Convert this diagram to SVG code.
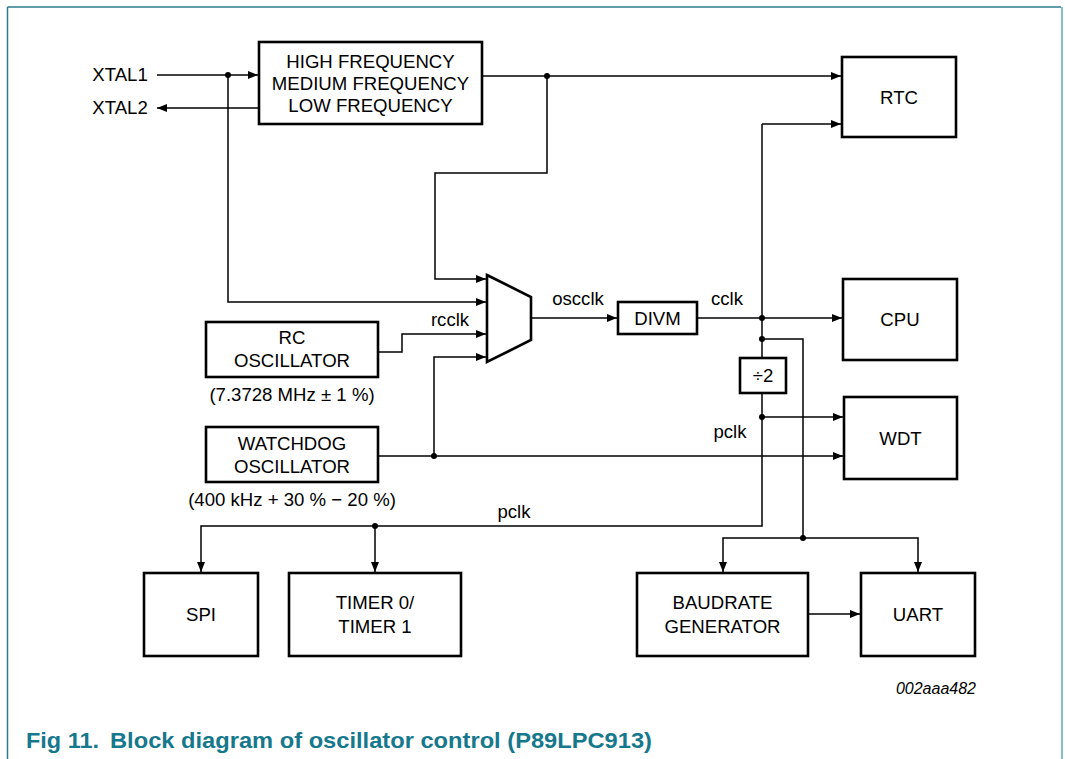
<svg xmlns="http://www.w3.org/2000/svg" width="1065" height="759" viewBox="0 0 1065 759">
<style>
.box{fill:#fff;stroke:#000;stroke-width:2.6}
.t{font-family:"Liberation Sans",Arial,sans-serif;font-size:18.6px;fill:#000;text-anchor:middle}
.w{stroke:#000;stroke-width:1.5;fill:none}
.a{marker-end:url(#arr)}
.cap{font-family:"Liberation Sans",Arial,sans-serif;font-weight:bold;font-size:22.5px;fill:#16788c}
</style>
<defs>
<marker id="arr" viewBox="0 0 10 8" refX="10" refY="4" markerWidth="10" markerHeight="8" markerUnits="userSpaceOnUse" orient="auto">
<path d="M0,0 L10,4 L0,8 z" fill="#000"/>
</marker>
</defs>
<rect width="1065" height="759" fill="#fff"/>
<g id="frame">
<line x1="7.5" y1="7" x2="1061" y2="7" stroke="#2b7d8e" stroke-width="1.5"/>
<line x1="7.5" y1="7" x2="7.5" y2="759" stroke="#2b7d8e" stroke-width="1.5"/>
<line x1="1062" y1="7" x2="1062" y2="759" stroke="#86c0cb" stroke-width="2"/>
</g>
<g id="connectors">
<path class="w a" d="M157,75 H258"/>
<path class="w a" d="M259,108 H157"/>
<path class="w a" d="M228,75 V302 H486"/>
<path class="w a" d="M482,76 H841"/>
<path class="w a" d="M547,76 V173 H435 V279 H486"/>
<path class="w a" d="M378,352 H402 V334 H486"/>
<path class="w a" d="M378,456 H843"/>
<path class="w a" d="M434,456 V357 H486"/>
<path class="w a" d="M531,318 H617"/>
<path class="w a" d="M697,318 H842"/>
<path class="w" d="M762,124 V358"/>
<path class="w a" d="M762,124 H841"/>
<path class="w" d="M762,339 H803 V538"/>
<path class="w a" d="M803,538 H723 V572"/>
<path class="w a" d="M803,538 H918 V572"/>
<path class="w a" d="M762,393 V526 H201 V572"/>
<path class="w a" d="M375,526 V572"/>
<path class="w a" d="M762,417 H843"/>
<path class="w a" d="M808,614 H860"/>
<g fill="#000">
<circle cx="228" cy="75" r="3"/>
<circle cx="547" cy="76" r="3"/>
<circle cx="434" cy="456" r="3"/>
<circle cx="762" cy="318" r="3"/>
<circle cx="762" cy="339" r="3"/>
<circle cx="762" cy="417" r="3"/>
<circle cx="375" cy="526" r="3"/>
<circle cx="803" cy="538" r="3"/>
</g>
<text class="t" x="578" y="305">oscclk</text>
<text class="t" x="450" y="326">rcclk</text>
<text class="t" x="727" y="305">cclk</text>
<text class="t" x="730" y="438">pclk</text>
<text class="t" x="514" y="518">pclk</text>
</g>
<g id="xtal1"><text class="t" x="120" y="81">XTAL1</text></g>
<g id="xtal2"><text class="t" x="120" y="114">XTAL2</text></g>
<g id="hf">
<rect class="box" x="259" y="42" width="223" height="82"/>
<text class="t" x="370.5" y="68">HIGH FREQUENCY</text>
<text class="t" x="370.5" y="90">MEDIUM FREQUENCY</text>
<text class="t" x="370.5" y="112">LOW FREQUENCY</text>
</g>
<g id="mux">
<polygon points="487,275 531,297 531,340 487,362" fill="#fff" stroke="#000" stroke-width="2.6"/>
</g>
<g id="rc">
<rect class="box" x="206" y="322" width="172" height="55"/>
<text class="t" x="292" y="343.5">RC</text>
<text class="t" x="292" y="367">OSCILLATOR</text>
<text class="t" x="292" y="401">(7.3728 MHz ± 1 %)</text>
</g>
<g id="wdosc">
<rect class="box" x="206" y="427" width="172" height="55"/>
<text class="t" x="292" y="449.5">WATCHDOG</text>
<text class="t" x="292" y="472.5">OSCILLATOR</text>
<text class="t" x="292" y="506">(400 kHz + 30 % − 20 %)</text>
</g>
<g id="divm">
<rect class="box" x="618" y="302" width="79" height="32"/>
<text class="t" x="657.5" y="324.5">DIVM</text>
</g>
<g id="div2">
<rect class="box" x="740" y="358" width="46" height="35"/>
<text class="t" x="763" y="382">÷2</text>
</g>
<g id="rtc">
<rect class="box" x="842" y="57" width="114" height="80"/>
<text class="t" x="899" y="103.5">RTC</text>
</g>
<g id="cpu">
<rect class="box" x="843" y="279" width="114" height="81"/>
<text class="t" x="900" y="326">CPU</text>
</g>
<g id="wdt">
<rect class="box" x="844" y="397" width="113" height="82"/>
<text class="t" x="900.5" y="444.5">WDT</text>
</g>
<g id="spi">
<rect class="box" x="144" y="573" width="114" height="83"/>
<text class="t" x="201" y="621">SPI</text>
</g>
<g id="timer">
<rect class="box" x="289" y="573" width="172" height="83"/>
<text class="t" x="375" y="609">TIMER 0/</text>
<text class="t" x="375" y="632.5">TIMER 1</text>
</g>
<g id="baud">
<rect class="box" x="637" y="573" width="171" height="83"/>
<text class="t" x="722.5" y="609">BAUDRATE</text>
<text class="t" x="722.5" y="633">GENERATOR</text>
</g>
<g id="uart">
<rect class="box" x="861" y="573" width="114" height="83"/>
<text class="t" x="918" y="621">UART</text>
</g>
<text x="976" y="694" font-family="Liberation Sans, Arial, sans-serif" font-style="italic" font-size="16" text-anchor="end" fill="#000">002aaa482</text>
<text class="cap" x="26" y="748" textLength="73" lengthAdjust="spacingAndGlyphs">Fig 11.</text>
<text class="cap" x="110" y="748" textLength="542" lengthAdjust="spacingAndGlyphs">Block diagram of oscillator control (P89LPC913)</text>
</svg>
